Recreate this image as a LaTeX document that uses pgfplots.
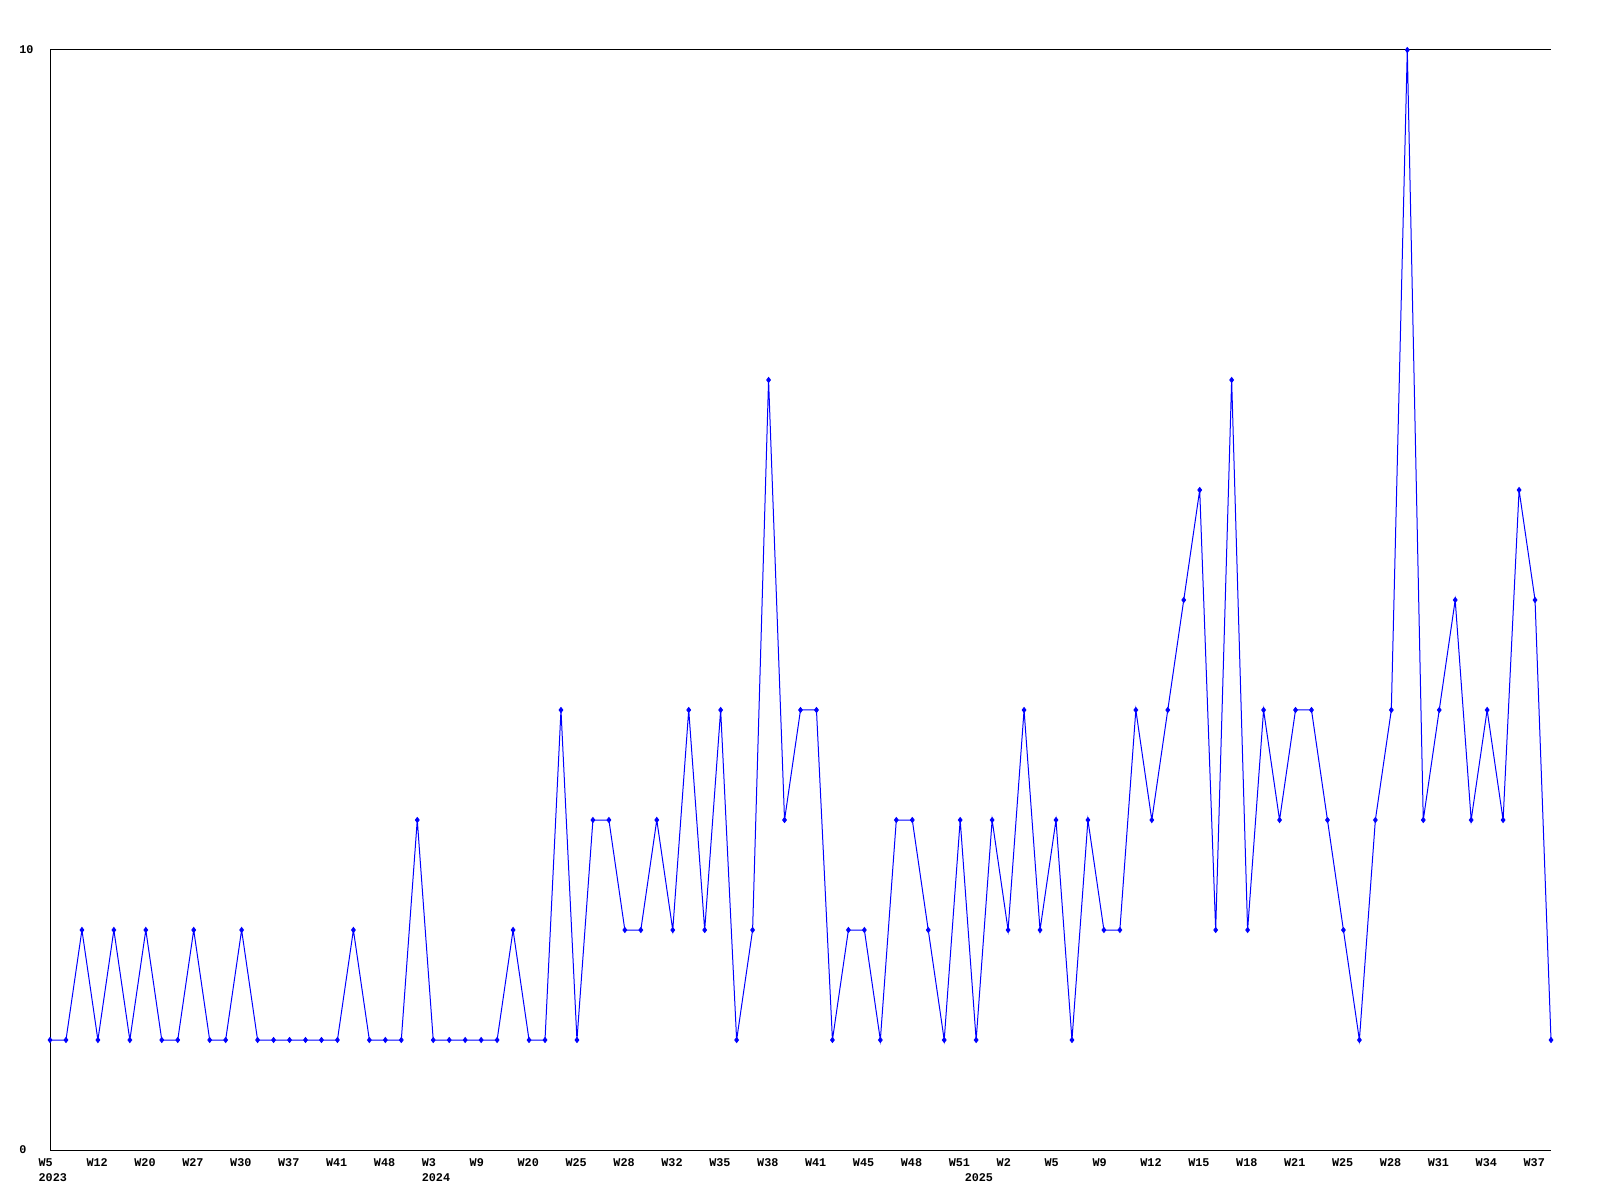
\documentclass[border=0pt]{standalone}
\usepackage{fontspec}
\setmainfont{Liberation Mono}
\usepackage{pgfplots}
\pgfplotsset{compat=1.18}
\definecolor{lineblue}{RGB}{0,0,255}
\pgfplotstableread{
x y
0 1
1 1
2 2
3 1
4 2
5 1
6 2
7 1
8 1
9 2
10 1
11 1
12 2
13 1
14 1
15 1
16 1
17 1
18 1
19 2
20 1
21 1
22 1
23 3
24 1
25 1
26 1
27 1
28 1
29 2
30 1
31 1
32 4
33 1
34 3
35 3
36 2
37 2
38 3
39 2
40 4
41 2
42 4
43 1
44 2
45 7
46 3
47 4
48 4
49 1
50 2
51 2
52 1
53 3
54 3
55 2
56 1
57 3
58 1
59 3
60 2
61 4
62 2
63 3
64 1
65 3
66 2
67 2
68 4
69 3
70 4
71 5
72 6
73 2
74 7
75 2
76 4
77 3
78 4
79 4
80 3
81 2
82 1
83 3
84 4
85 10
86 3
87 4
88 5
89 3
90 4
91 3
92 6
93 5
94 1
}\datatable
\begin{document}
\begin{tikzpicture}
\path[use as bounding box] (0,0) rectangle (800pt,600pt);
\begin{axis}[
  at={(25pt,25pt)}, anchor=south west,
  scale only axis, width=750.5pt, height=550pt,
  xmin=0, xmax=94, ymin=0, ymax=10,
  separate axis lines,
  axis x line=box, axis y line=left,
  axis line style={line width=0.5pt, -},
  x axis line style={-}, y axis line style={-},
  major tick length=0pt,
  ytick={0,10}, yticklabels={0,10},
  xtick={0,3,...,93},
  xticklabels={{W5\\2023},W12,W20,W27,W30,W37,W41,W48,{W3\\2024},W9,W20,W25,W28,W32,W35,W38,W41,W45,W48,W51,W2,W5,W9,W12,W15,W18,W21,W25,W28,W31,W34,W37},
  extra x ticks={58},
  extra x tick labels={{\phantom{W}\\2025}},
  extra x tick style={major tick length=0pt},
  tick label style={font=\fontsize{5.9}{7.5}\selectfont\bfseries, inner sep=0pt},
  yticklabel style={anchor=west, xshift=-15.5pt},
  xticklabel style={anchor=north west, align=left, xshift=-5.9pt, yshift=-4pt},
  clip=false,
]
\addplot[color=lineblue, line width=0.5pt, mark=diamond*, mark size=1.2pt, mark options={solid, fill=lineblue}] table[x=x,y=y] {\datatable};
\end{axis}
\end{tikzpicture}
\end{document}
